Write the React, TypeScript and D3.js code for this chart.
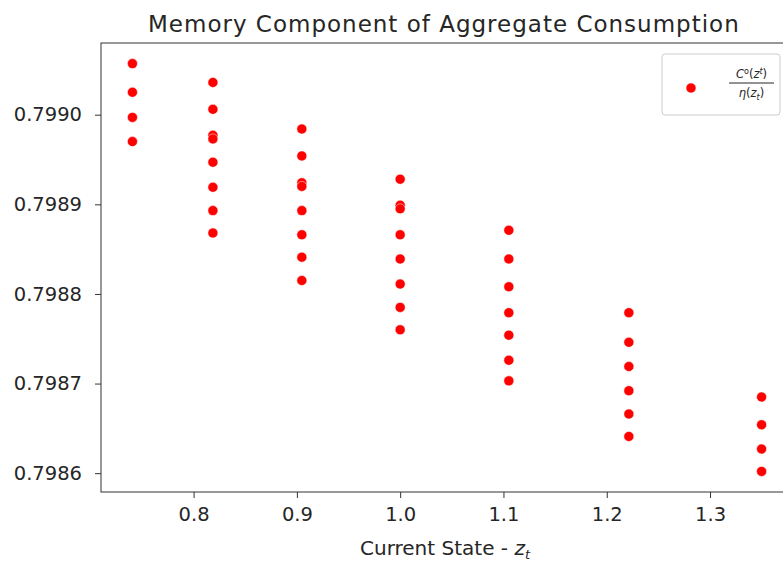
import React, { useRef, useEffect } from "react";
import { select, scaleLinear, axisLeft, axisBottom, format } from "d3";

// current state z_t (one column of points per state)
const zStates = [0.7408, 0.8187, 0.9048, 1.0, 1.1052, 1.2214, 1.3499];

// memory component C^o(z^t) / eta(z_t), per state
const memCol1 = [0.799057, 0.799025, 0.798997, 0.79897];
const memCol2 = [0.799036, 0.799006, 0.798977, 0.798973, 0.798947, 0.798919, 0.798893, 0.798868];
const memCol3 = [0.798984, 0.798954, 0.798924, 0.79892, 0.798893, 0.798866, 0.798841, 0.798815];
const memCol4 = [0.798928, 0.798899, 0.798895, 0.798866, 0.798839, 0.798811, 0.798785, 0.79876];
const memCol5 = [0.798871, 0.798839, 0.798808, 0.798779, 0.798754, 0.798726, 0.798703];
const memCol6 = [0.798779, 0.798746, 0.798719, 0.798692, 0.798666, 0.798641];
const memCol7 = [0.798685, 0.798654, 0.798627, 0.798602];
const memCols = [memCol1, memCol2, memCol3, memCol4, memCol5, memCol6, memCol7];

const xTicks = [0.8, 0.9, 1.0, 1.1, 1.2, 1.3];
const yTicks = [0.7986, 0.7987, 0.7988, 0.7989, 0.799];

const W = 783;
const H = 563;
const FONT = "DejaVu Sans, sans-serif";

export default function App() {
  const svgRef = useRef<SVGSVGElement>(null);

  useEffect(() => {
    const svg = select(svgRef.current);
    svg.selectAll("*").remove();

    const left = 101, right = 793, top = 43, bottom = 492;

    const xScale = scaleLinear().domain([0.710366, 1.380311]).range([left, right]);
    const yScale = scaleLinear().domain([0.798579, 0.79908]).range([bottom, top]);

    const points = [];
    memCols.forEach((col, i) => col.forEach((v) => points.push({ z: zStates[i], v })));

    // axes
    const xAxis = svg.append("g")
      .attr("transform", `translate(0,${bottom})`)
      .call(axisBottom(xScale).tickValues(xTicks).tickFormat(format(".1f")).tickSize(6).tickPadding(9));
    const yAxis = svg.append("g")
      .attr("transform", `translate(${left},0)`)
      .call(axisLeft(yScale).tickValues(yTicks).tickFormat(format(".4f")).tickSize(6).tickPadding(13));

    [xAxis, yAxis].forEach((a) => {
      a.select(".domain").remove();
      a.selectAll("line").attr("stroke", "#333").attr("stroke-width", 1);
      a.selectAll("text").attr("font-family", FONT).attr("font-size", 19.5).attr("fill", "#262626");
    });

    // spines
    svg.append("rect")
      .attr("x", left).attr("y", top)
      .attr("width", right - left).attr("height", bottom - top)
      .attr("fill", "none").attr("stroke", "#333").attr("stroke-width", 1);

    // points
    svg.append("g")
      .selectAll("circle")
      .data(points)
      .enter()
      .append("circle")
      .attr("cx", (d) => xScale(d.z))
      .attr("cy", (d) => yScale(d.v))
      .attr("r", 5)
      .attr("fill", "red")
      .attr("stroke", "white")
      .attr("stroke-width", 0.5);

    // title
    svg.append("text")
      .attr("x", 148).attr("y", 31.5)
      .attr("font-family", FONT).attr("font-size", 23)
      .attr("letter-spacing", 1)
      .attr("fill", "#262626")
      .text("Memory Component of Aggregate Consumption");

    // x label
    const xl = svg.append("text")
      .attr("x", 445).attr("y", 555)
      .attr("text-anchor", "middle")
      .attr("font-family", FONT).attr("font-size", 20)
      .attr("fill", "#262626");
    xl.append("tspan").text("Current State - ");
    xl.append("tspan").attr("font-style", "italic").text("z");
    xl.append("tspan").attr("font-style", "italic").attr("font-size", 13).attr("dy", 4).text("t");

    // legend
    const lg = svg.append("g");
    lg.append("rect")
      .attr("x", 662).attr("y", 54).attr("width", 118).attr("height", 61).attr("rx", 3)
      .attr("fill", "white").attr("fill-opacity", 0.8)
      .attr("stroke", "#ccc").attr("stroke-width", 1);
    lg.append("circle")
      .attr("cx", 691).attr("cy", 88).attr("r", 5)
      .attr("fill", "red").attr("stroke", "white").attr("stroke-width", 0.5);
    lg.append("line")
      .attr("x1", 729).attr("x2", 774).attr("y1", 83).attr("y2", 83)
      .attr("stroke", "#262626").attr("stroke-width", 1);
    const num = lg.append("text")
      .attr("x", 751.5).attr("y", 78).attr("text-anchor", "middle")
      .attr("font-family", FONT).attr("font-size", 11.5).attr("fill", "#262626");
    num.append("tspan").attr("font-style", "italic").text("C");
    num.append("tspan").attr("font-size", 8).attr("dy", -4).text("o");
    num.append("tspan").attr("dy", 4).text("(");
    num.append("tspan").attr("font-style", "italic").text("z");
    num.append("tspan").attr("font-style", "italic").attr("font-size", 8).attr("dy", -4).text("t");
    num.append("tspan").attr("dy", 4).text(")");
    const den = lg.append("text")
      .attr("x", 751.5).attr("y", 97).attr("text-anchor", "middle")
      .attr("font-family", FONT).attr("font-size", 11.5).attr("fill", "#262626");
    den.append("tspan").attr("font-style", "italic").text("η");
    den.append("tspan").text("(");
    den.append("tspan").attr("font-style", "italic").text("z");
    den.append("tspan").attr("font-style", "italic").attr("font-size", 8).attr("dy", 3).text("t");
    den.append("tspan").attr("dy", -3).text(")");
  }, []);

  return (
    <svg
      ref={svgRef}
      width={W}
      height={H}
      style={{ position: "absolute", left: 0, top: 0, background: "white" }}
    />
  );
}
